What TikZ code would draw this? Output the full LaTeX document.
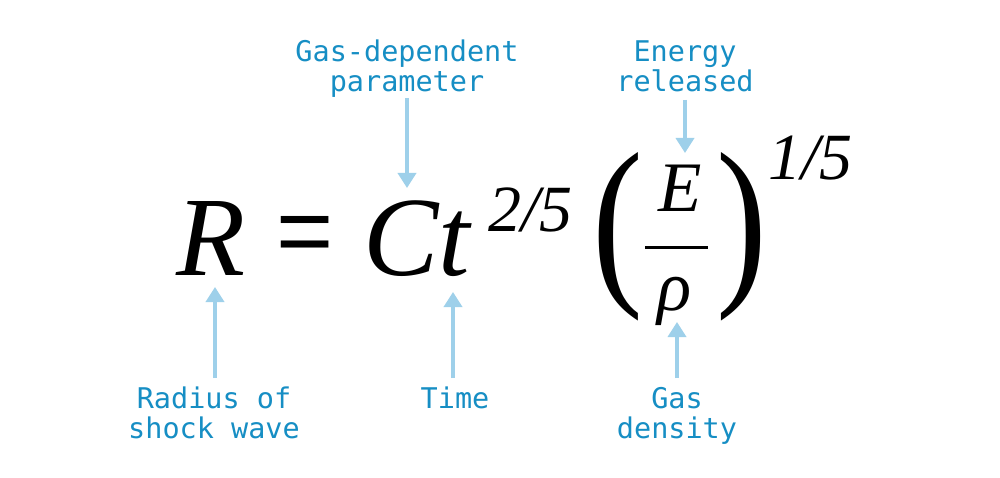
\documentclass[tikz,border=0pt]{standalone}
\usepackage{fontspec}
\usetikzlibrary{arrows.meta}
\newfontfamily\eqfont{Liberation Serif}
\newfontfamily\eqsans{Liberation Sans}
\newfontfamily\lblfont{DejaVu Sans Mono}
\definecolor{lblblue}{RGB}{22,142,196}
\definecolor{arrblue}{RGB}{158,208,234}
\tikzset{
  eqi/.style={inner sep=0pt, font=\eqfont\itshape\fontsize{113}{120}\selectfont},
  equ/.style={inner sep=0pt, font=\eqsans\fontsize{98}{100}\selectfont},
  supx/.style={inner sep=0pt, font=\eqfont\itshape\fontsize{66}{70}\selectfont},
  frac/.style={inner sep=0pt, font=\eqfont\itshape\fontsize{71}{80}\selectfont},
  paren/.style={inner sep=0pt, font=\eqfont\fontsize{186}{190}\selectfont},
  lbl/.style={inner sep=0pt, align=center, text=lblblue, font=\lblfont\fontsize{28.5}{30}\selectfont},
  arr/.style={draw=arrblue, line width=3.5pt, -{Triangle[length=15pt,width=18pt]}}
}
\begin{document}
\begin{tikzpicture}[x=1pt,y=-1pt]
\useasboundingbox[fill=white] (0,0) rectangle (1000,478);
% formula
\node[eqi, anchor=base west] (R) at (176,275) {R};
\node[equ, anchor=center] (eq) at (305,240) {=};
\node[eqi, anchor=base west] (Ct) at (363,275) {Ct};
\node[supx, anchor=base west] (e1) at (488,232) {2/5};
\node[paren, anchor=center] (lp) at (618,237) {\scalebox{0.82}[1]{(}};
\node[frac, anchor=base] (E) at (680,212) {E};
\draw[line width=3pt] (645,247) -- (708,247);
\node[frac, anchor=base] (rho) at (675,310) {ρ};
\node[paren, anchor=center] (rp) at (742,237) {\scalebox{0.82}[1]{)}};
\node[supx, anchor=base west] (e2) at (768,180) {1/5};
% labels (base anchor = last line's baseline)
\node[lbl, anchor=base] (lgas) at (407,92) {Gas-dependent\\parameter};
\node[lbl, anchor=base] (lene) at (685,92) {Energy\\released};
\node[lbl, anchor=base] (lrad) at (214,438) {Radius of\\shock wave};
\node[lbl, anchor=base] (ltim) at (455,408) {Time};
\node[lbl, anchor=base] (lden) at (677,438) {Gas\\density};
% arrows
\coordinate (a1s) at (407,98);  \coordinate (a1e) at (407,188);
\coordinate (a2s) at (685,100); \coordinate (a2e) at (685,153);
\coordinate (a3s) at (215,378); \coordinate (a3e) at (215,287);
\coordinate (a4s) at (453,378); \coordinate (a4e) at (453,292);
\coordinate (a5s) at (677,378); \coordinate (a5e) at (677,322);
\draw[arr] (a1s) -- (a1e);
\draw[arr] (a2s) -- (a2e);
\draw[arr] (a3s) -- (a3e);
\draw[arr] (a4s) -- (a4e);
\draw[arr] (a5s) -- (a5e);
\end{tikzpicture}
\end{document}
